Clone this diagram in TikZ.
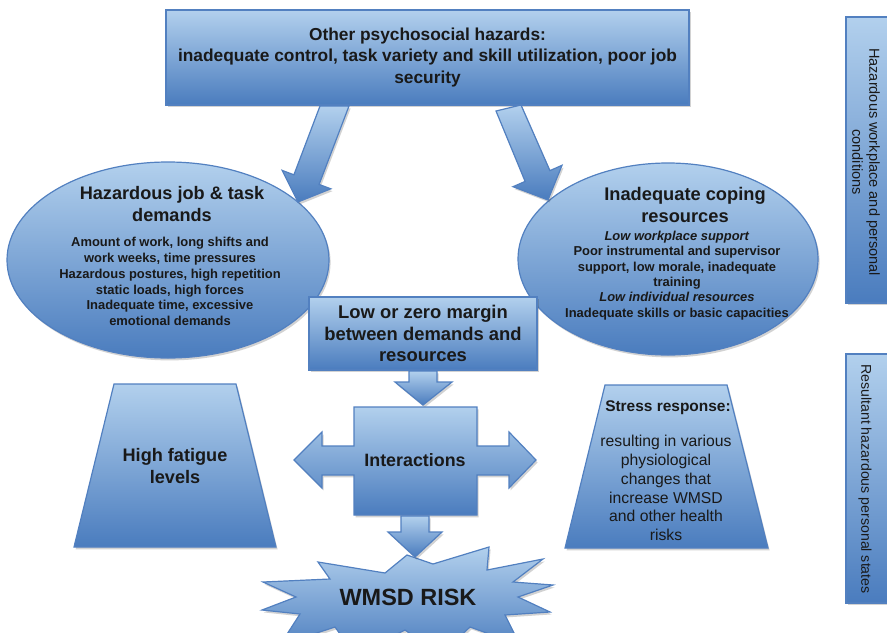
\documentclass[tikz,border=0pt]{standalone}
\usepackage{fontspec}
\setmainfont{Liberation Sans}
\usetikzlibrary{shadows}
\definecolor{hzTop}{RGB}{178,208,237}
\definecolor{hzBot}{RGB}{74,124,190}
\definecolor{hzLine}{RGB}{82,128,192}
\definecolor{ink}{RGB}{25,25,25}
\begin{document}
\begin{tikzpicture}[x=0.75pt,y=-0.75pt,
  blockfill/.style={draw=hzLine, line width=0.9pt, top color=hzTop, bottom color=hzBot, line join=miter},
  softshadow/.style={drop shadow={shadow xshift=1.2pt, shadow yshift=-1.8pt, opacity=0.25, fill=black!70}},
  lbl/.style={text=ink, align=center, inner sep=0pt},
  boldlbl/.style={lbl, font=\bfseries\fontsize{#1}{#1*1.2}\selectfont},
]
\useasboundingbox (0,0) rectangle (887,632);
\clip (0,0) rectangle (887,632);

% ---- ellipses: demands and coping resources
\path[blockfill, softshadow] (168,260) ellipse [x radius=161, y radius=98];
\path[blockfill, softshadow] (668,259) ellipse [x radius=150, y radius=96];

% ---- top box
\node[blockfill, softshadow, minimum width=392.25pt, minimum height=71.25pt, inner sep=0pt,
      text=ink, align=center, font=\bfseries\fontsize{13}{16}\selectfont]
  (hazards) at (427.5,57.5)
  {Other psychosocial hazards:\\inadequate control, task variety and skill utilization, poor job\\security};

% ---- block arrows from the top box to the ellipses
\path[blockfill, softshadow] (320,106) -- (349,106) -- (319.1,184.4) -- (330.8,188.8)
  -- (298,202) -- (282.2,170.4) -- (293.9,174.8) -- cycle;
\path[blockfill, softshadow] (496,111) -- (521,105) -- (549.9,170.6) -- (562,165.3)
  -- (548,200) -- (513,186.7) -- (525.1,181.4) -- cycle;

% ---- ellipse texts
\node[lbl, font=\bfseries\fontsize{13.6}{16.5}\selectfont] (demTitle) at (172,204)
  {Hazardous job \& task\\demands};
\node[lbl, font=\bfseries\fontsize{9.7}{11.85}\selectfont] (demBody) at (170,281.5)
  {Amount of work, long shifts and\\work weeks, time pressures\\Hazardous postures, high repetition\\static loads, high forces\\Inadequate time, excessive\\emotional demands};
\node[lbl, font=\bfseries\fontsize{13.7}{16.5}\selectfont] (copTitle) at (685,204.5)
  {Inadequate coping\\resources};
\node[lbl, font=\bfseries\fontsize{9.7}{11.5}\selectfont] (copBody) at (677,275.5)
  {\textit{Low workplace support}\\Poor instrumental and supervisor\\support, low morale, inadequate\\training\\\textit{Low individual resources}\\Inadequate skills or basic capacities};

% ---- margin box
\node[blockfill, softshadow, minimum width=171pt, minimum height=54.75pt, inner sep=0pt,
      text=ink, align=center, font=\bfseries\fontsize{13.8}{16.1}\selectfont]
  (margin) at (423,333.5)
  {Low or zero margin\\between demands and\\resources};

% arrow from margin box down to the interactions block
\path[blockfill, softshadow] (409,371) -- (437,371) -- (437,382) -- (452,382)
  -- (423,405) -- (395,382) -- (409,382) -- cycle;

% ---- trapezoids
\path[blockfill, softshadow] (114,384) -- (236,384) -- (276,547) -- (74,547) -- cycle;
\path[blockfill, softshadow] (605,385) -- (727,385) -- (768,548) -- (565,548) -- cycle;
\node[lbl, font=\bfseries\fontsize{13.6}{16.5}\selectfont] (fatigue) at (175,466)
  {High fatigue\\levels};
\node[lbl, font=\bfseries\fontsize{11.6}{14}\selectfont] (stressHead) at (668,408)
  {Stress response:};
\node[lbl, font=\fontsize{11.8}{14.1}\selectfont] (stressBody) at (666,488)
  {resulting in various\\physiological\\changes that\\increase WMSD\\and other health\\risks};

% ---- interactions block with side arrows
\path[blockfill, softshadow] (354,407) -- (477,407) -- (477,446) -- (509,446) -- (509,432)
  -- (536,460) -- (509,488) -- (509,475) -- (477,475) -- (477,515) -- (354,515)
  -- (354,475) -- (322,475) -- (322,488) -- (294,460) -- (322,432) -- (322,446)
  -- (354,446) -- cycle;
\node[lbl, font=\bfseries\fontsize{13.4}{16}\selectfont] (interact) at (415,460) {Interactions};

% ---- risk burst
\path[blockfill, softshadow] (263,582) -- (330,579) -- (318,562) -- (385,573) -- (407,555)
  -- (433,564) -- (489,547) -- (487,570) -- (543,559) -- (513,582) -- (553,585)
  -- (518,597) -- (550,612) -- (505,615) -- (520,645) -- (470,627) -- (440,655)
  -- (405,630) -- (355,655) -- (335,627) -- (280,645) -- (300,614) -- (262,610)
  -- (296,597) -- cycle;
\node[lbl, font=\bfseries\fontsize{17.6}{20}\selectfont] (risk) at (408,597) {WMSD RISK};

% arrow from interactions down to the burst
\path[blockfill, softshadow] (401,516) -- (429,516) -- (429,532) -- (442,532)
  -- (415,557) -- (388,532) -- (401,532) -- cycle;

% ---- side bars
\path[blockfill, softshadow] (846,17) rectangle (905,303);
\path[blockfill, softshadow] (846,354) rectangle (905,603);
\node[lbl, rotate=-90, font=\fontsize{10.9}{12.8}\selectfont] (condBar) at (866,162)
  {Hazardous workplace and personal\\conditions};
\node[lbl, rotate=-90, font=\fontsize{10.6}{12.8}\selectfont] (stateBar) at (865,479)
  {Resultant hazardous personal states};
\end{tikzpicture}
\end{document}
